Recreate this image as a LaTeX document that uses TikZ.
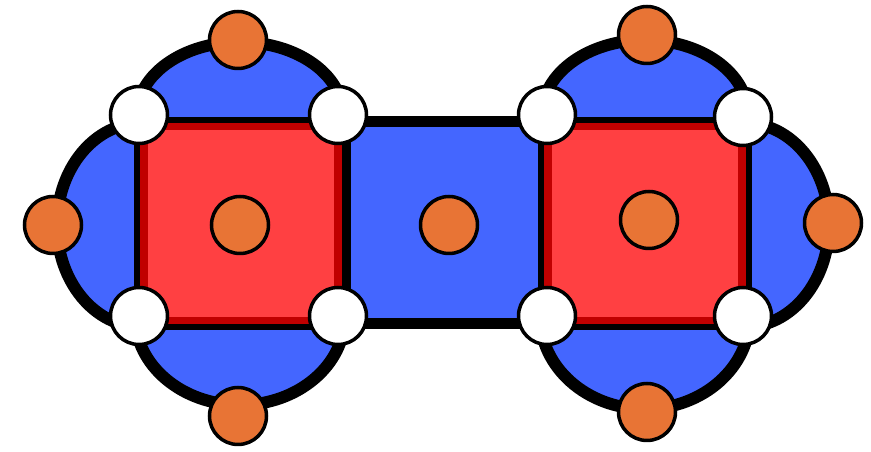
\documentclass[tikz,border=0pt]{standalone}
\usepackage{tikz}
\definecolor{lobeblue}{HTML}{4466FF}
\definecolor{cellred}{HTML}{FF4042}
\definecolor{rimred}{HTML}{C00000}
\definecolor{siteorange}{HTML}{E87435}

\begin{document}
\begin{tikzpicture}[
    x=1pt, y=1pt,
    lobe/.style={fill=lobeblue},
    rim/.style={line width=12pt, black},
    vertex/.style={circle, draw=black, fill=white, line width=3.5pt, inner sep=0pt, minimum size=57pt},
    site/.style={circle, draw=black, fill=siteorange, line width=3.5pt, inner sep=0pt, minimum size=57pt}
]
\useasboundingbox (0,0) rectangle (871,452);
% Lobes: centre x/centre y/start/end/x radius/y radius
\def\lobes{240/337/180/0/103pt/73pt, 240/136/180/360/105pt/89pt, 141/227/90/270/84pt/102pt,
           645/337/180/0/103pt/75pt, 645/136/180/360/105pt/93pt, 745/227/-90/90/84pt/102pt}
% y-positions of the square rows
\def\yT{337}  \def\yB{136}
% Middle blue cell
\draw[line width=11pt, fill=lobeblue] (345,330) rectangle (545,128);
% Blue lobes, filled first, rims after
\foreach \cx/\cy/\sa/\ea/\rx/\ry in \lobes
  \fill[lobe] (\cx,\cy) ++(\sa:{\rx} and {\ry})
    arc[start angle=\sa, end angle=\ea, x radius=\rx, y radius=\ry] -- cycle;
\foreach \xa/\xb in {139/338, 547/743}
  \fill[lobe] (\xa,\yT) rectangle (\xb,\yB);
\foreach \cx/\cy/\sa/\ea/\rx/\ry in \lobes
  \draw[rim] (\cx,\cy) ++(\sa:{\rx} and {\ry})
    arc[start angle=\sa, end angle=\ea, x radius=\rx, y radius=\ry];
% Red squares
\foreach \xa/\xb in {134/348, 538/752} {
  \draw[line width=6pt, fill=rimred] (\xa+3,332) rectangle (\xb-3,125);
  \fill[cellred] (\xa+14,322) rectangle (\xb-14,135);
}
% White vertices at the square corners
\node[vertex] (lnw) at (139,\yT) {};
\node[vertex] (lne) at (338,\yT) {};
\node[vertex] (lsw) at (139,\yB) {};
\node[vertex] (lse) at (338,\yB) {};
\node[vertex] (rnw) at (547,\yT) {};
\node[vertex] (rne) at (743,335) {};
\node[vertex] (rsw) at (547,\yB) {};
\node[vertex] (rse) at (743,\yB) {};
% --- Orange sites, left group
\node[site] (ltop) at (238,412) {};
\node[site] (lbot) at (238,36) {};
\node[site] (lout) at (53,227) {};
\node[site] (lmid) at (240,227) {};
% --- middle
\node[site] (mid) at (449,227) {};
% --- right group
\node[site] (rtop) at (647,417) {};
\node[site] (rbot) at (647,40) {};
\node[site] (rout) at (833,229) {};
\node[site] (rmid) at (649,232) {};
\end{tikzpicture}
\end{document}
